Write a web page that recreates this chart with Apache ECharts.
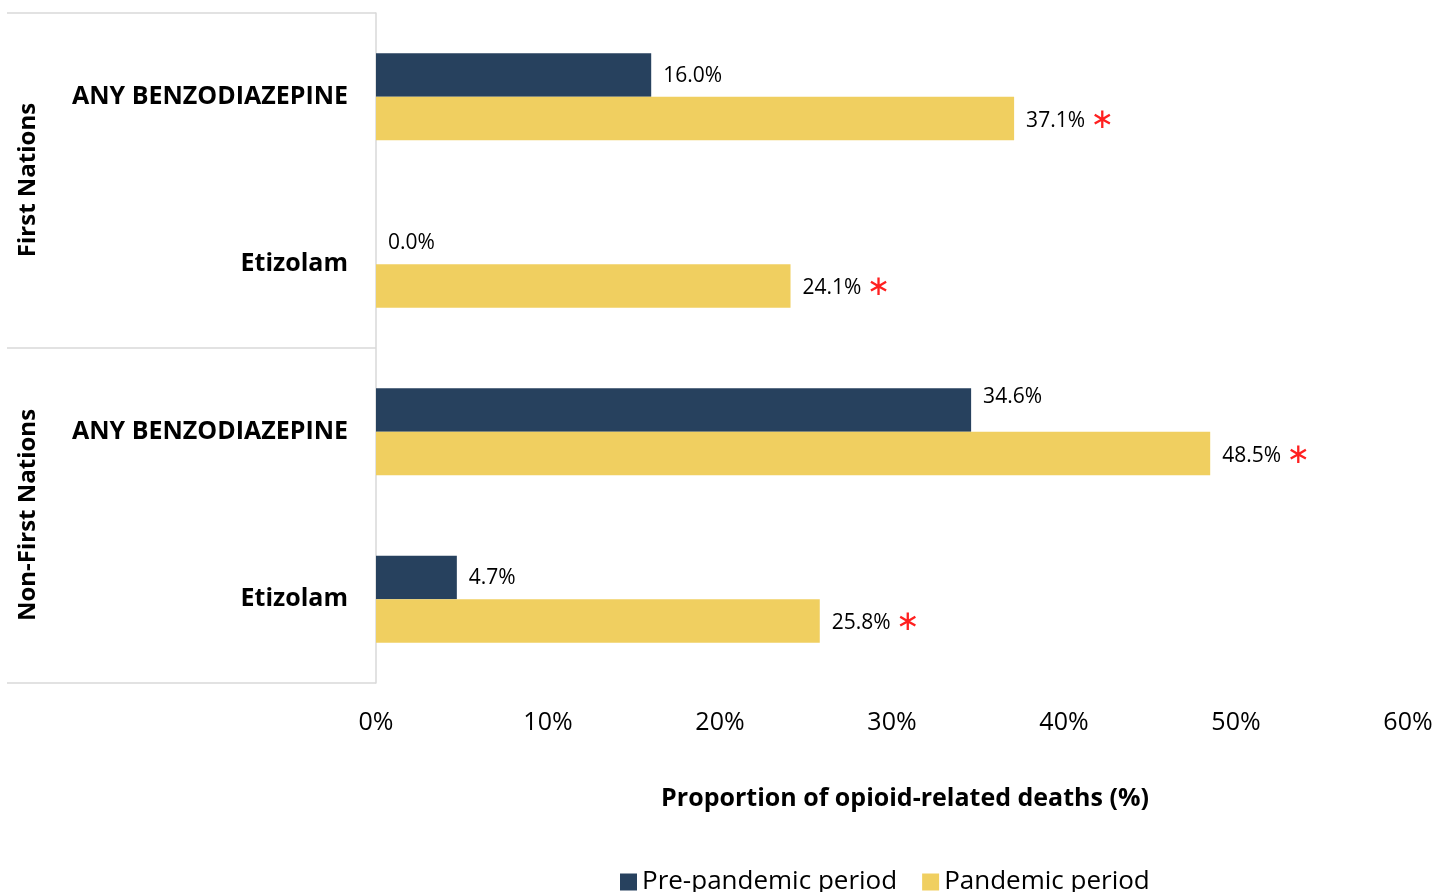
<!DOCTYPE html>
<html>
<head>
<meta charset="utf-8">
<script src="https://cdn.jsdelivr.net/npm/echarts@6/dist/echarts.min.js"></script>
<style>
html,body{margin:0;padding:0;background:#fff;}
#chart{width:1439px;height:892px;}
</style>
</head>
<body>
<div id="chart"></div>
<script>
const categories = ['ANY BENZODIAZEPINE', 'Etizolam', 'ANY BENZODIAZEPINE ', 'Etizolam '];
const groups = ['First Nations', 'Non-First Nations'];
const prePandemic = [16.0, 0.0, 34.6, 4.7];
const pandemic = [37.1, 24.1, 48.5, 25.8];
const significant = [true, true, true, true];
const xTicks = [0, 10, 20, 30, 40, 50, 60];
const seriesNames = ['Pre-pandemic period', 'Pandemic period'];
const axisTitle = 'Proportion of opioid-related deaths (%)';

const FONT = '"Open Sans", sans-serif';
const chart = echarts.init(document.getElementById('chart'));

// the 34.6% label sits a little higher in the original
const preData = prePandemic.map((v, i) => i === 2 ? { value: v, label: { offset: [0, -13] } } : v);

const option = {
  backgroundColor: '#ffffff',
  textStyle: { fontFamily: FONT },
  grid: { left: 376, right: 31, top: 13, bottom: 209, containLabel: false },
  xAxis: {
    type: 'value', min: xTicks[0], max: xTicks[xTicks.length - 1], interval: 10,
    axisLine: { show: false }, axisTick: { show: false }, splitLine: { show: false },
    axisLabel: { formatter: '{value}%', fontSize: 25, color: '#000', margin: 27, fontFamily: FONT }
  },
  yAxis: {
    type: 'category', inverse: true, data: categories,
    axisLine: { show: true, lineStyle: { color: '#d9d9d9', width: 1.5 } },
    axisTick: { show: false },
    axisLabel: { fontSize: 25, fontWeight: 'bold', color: '#000', margin: 28, fontFamily: FONT,
      formatter: v => v.trim() }
  },
  legend: {
    left: 615, top: 864, itemWidth: 17, itemHeight: 17, itemGap: 25, icon: 'rect',
    textStyle: { fontSize: 26, color: '#000', fontFamily: FONT },
    data: seriesNames
  },
  series: [
    {
      name: seriesNames[0], type: 'bar', data: preData, barGap: '0%', barCategoryGap: '48%',
      itemStyle: { color: '#27415e' },
      label: { show: true, position: 'right', distance: 12, offset: [0, 1], fontSize: 21, color: '#000', fontFamily: FONT,
        formatter: p => p.value.toFixed(1) + '%' }
    },
    {
      name: seriesNames[1], type: 'bar', data: pandemic, barGap: '0%', barCategoryGap: '48%',
      itemStyle: { color: '#f0cf60' },
      label: { show: true, position: 'right', distance: 12, offset: [0, 2], fontSize: 21, color: '#000', fontFamily: FONT,
        formatter: p => '{v|' + p.value.toFixed(1) + '%}' + (significant[p.dataIndex] ? ' {a|∗}' : ''),
        rich: {
          v: { fontSize: 21, color: '#000', fontFamily: FONT },
          a: { fontSize: 28, color: '#ff2020', fontFamily: '"DejaVu Sans", sans-serif' }
        }
      }
    }
  ],
  graphic: [
    { type: 'line', shape: { x1: 7, y1: 13, x2: 376, y2: 13 }, style: { stroke: '#d9d9d9', lineWidth: 1.5 } },
    { type: 'line', shape: { x1: 7, y1: 348, x2: 376, y2: 348 }, style: { stroke: '#d9d9d9', lineWidth: 1.5 } },
    { type: 'line', shape: { x1: 7, y1: 683, x2: 376, y2: 683 }, style: { stroke: '#d9d9d9', lineWidth: 1.5 } },
    { type: 'text', x: 28, y: 180, rotation: Math.PI / 2,
      style: { text: groups[0], font: 'bold 24px ' + FONT, fill: '#000', textAlign: 'center', textVerticalAlign: 'middle' } },
    { type: 'text', x: 28, y: 515, rotation: Math.PI / 2,
      style: { text: groups[1], font: 'bold 24px ' + FONT, fill: '#000', textAlign: 'center', textVerticalAlign: 'middle' } },
    { type: 'text', x: 905, y: 799,
      style: { text: axisTitle, font: 'bold 25px ' + FONT, fill: '#000', textAlign: 'center', textVerticalAlign: 'middle' } }
  ]
};
chart.setOption(option);
</script>
</body>
</html>
